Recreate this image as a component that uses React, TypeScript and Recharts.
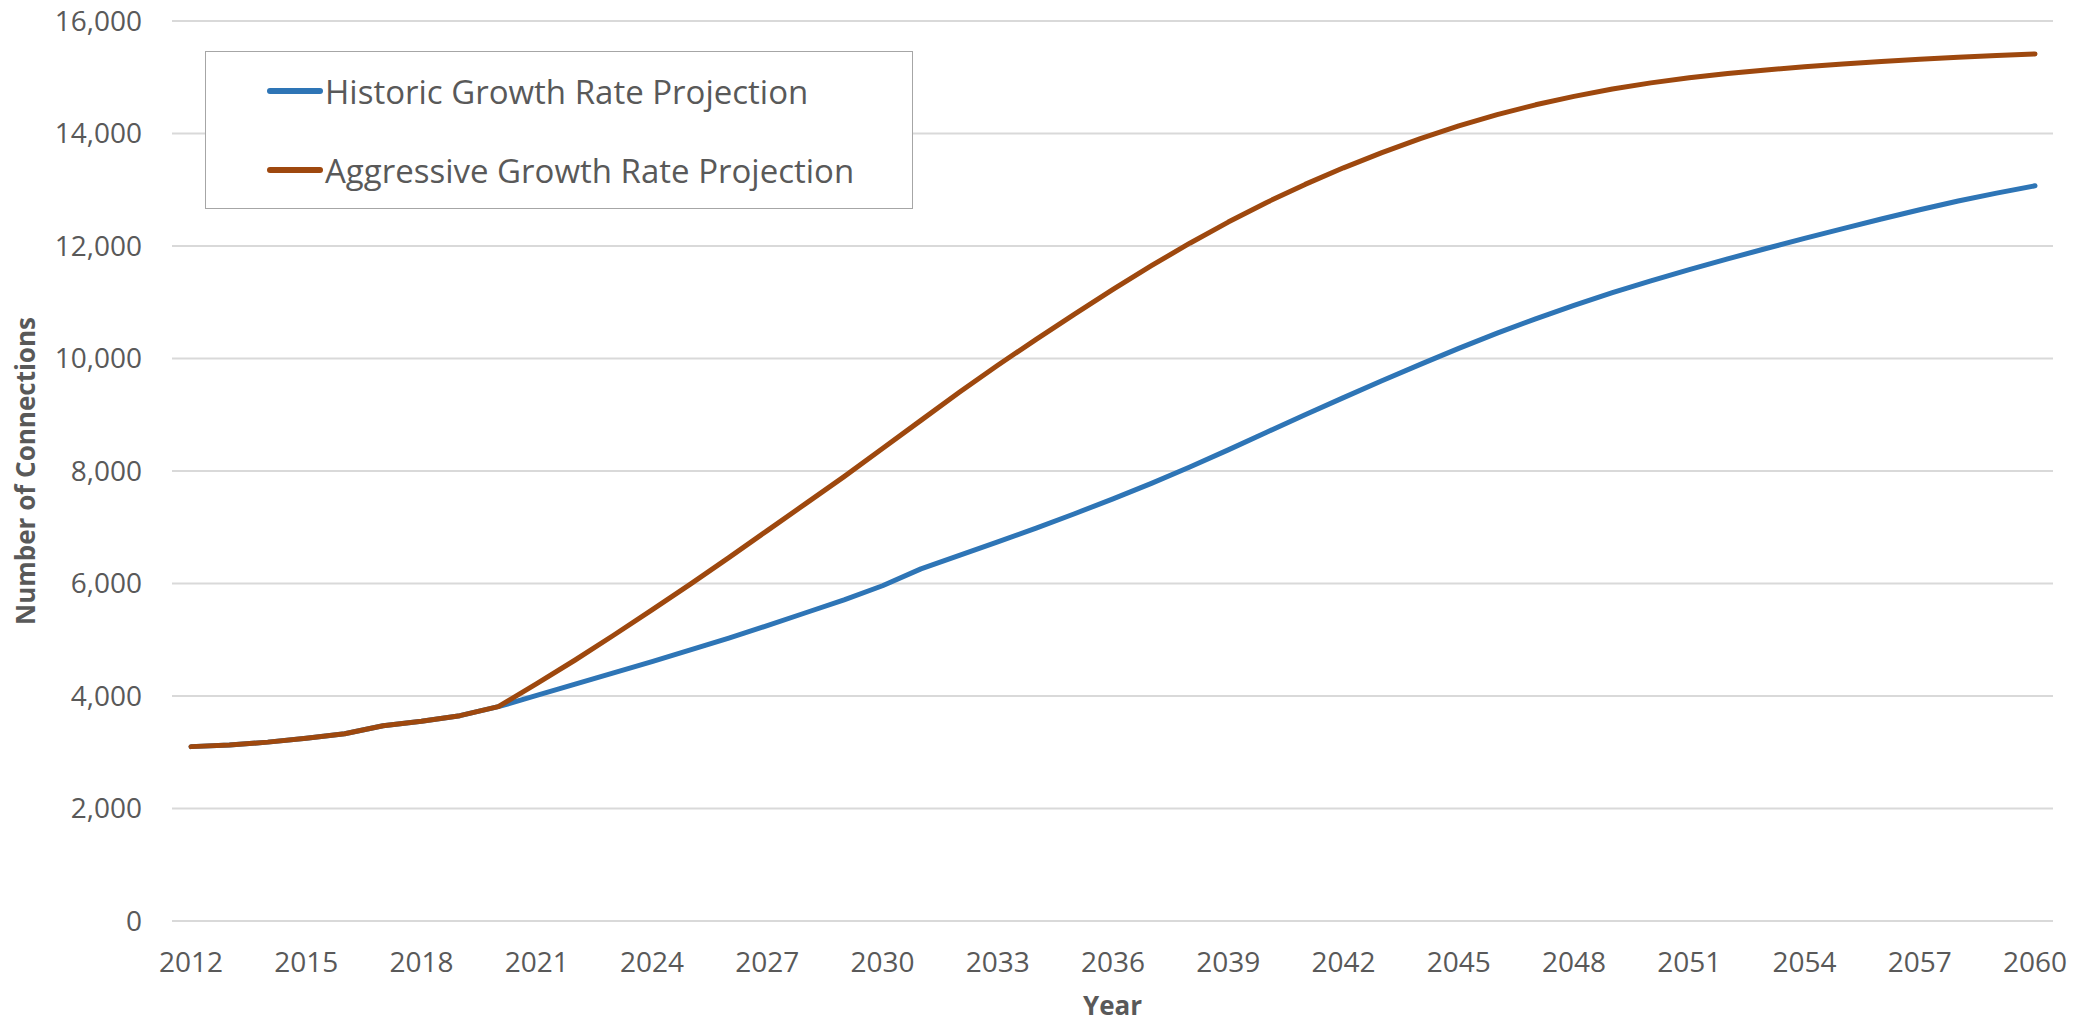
import React from "react";
import { LineChart, Line, XAxis, YAxis, CartesianGrid, Legend } from "recharts";

const years = [
  2012, 2013, 2014, 2015, 2016, 2017, 2018, 2019, 2020, 2021, 2022, 2023, 2024,
  2025, 2026, 2027, 2028, 2029, 2030, 2031, 2032, 2033, 2034, 2035, 2036, 2037,
  2038, 2039, 2040, 2041, 2042, 2043, 2044, 2045, 2046, 2047, 2048, 2049, 2050,
  2051, 2052, 2053, 2054, 2055, 2056, 2057, 2058, 2059, 2060,
];

const historic = [
  3100, 3130, 3180, 3250, 3330, 3470, 3550, 3650, 3810, 4010, 4210, 4410, 4610,
  4820, 5030, 5250, 5480, 5710, 5960, 6260, 6500, 6740, 6985, 7240, 7505, 7780,
  8070, 8375, 8690, 9000, 9305, 9605, 9895, 10180, 10450, 10705, 10945, 11170,
  11380, 11580, 11770, 11955, 12135, 12310, 12480, 12645, 12800, 12940, 13070,
];

const aggressive = [
  3100, 3130, 3180, 3250, 3330, 3470, 3550, 3650, 3810, 4220, 4640, 5080, 5530,
  5990, 6460, 6940, 7420, 7900, 8400, 8900, 9400, 9880, 10340, 10790, 11230,
  11650, 12050, 12425, 12775, 13095, 13390, 13660, 13910, 14135, 14335, 14510,
  14660, 14790, 14900, 14990, 15065, 15130, 15185, 15235, 15280, 15320, 15355,
  15387, 15415,
];

const yTicks = [0, 2000, 4000, 6000, 8000, 10000, 12000, 14000, 16000];

const seriesNames = ["Historic Growth Rate Projection", "Aggressive Growth Rate Projection"];
const seriesColors = ["#2E75B6", "#9E480E"];

const chartData = years.map((year, i) => ({
  year,
  historic: historic[i],
  aggressive: aggressive[i],
}));

const FONT = "'Open Sans', sans-serif";
const TEXT = "#595959";

function LegendBox(props: any) {
  // keep the series order, not the alphabetical one
  const items = [...(props.payload || [])].sort(
    (a: any, b: any) => seriesNames.indexOf(a.value) - seriesNames.indexOf(b.value)
  );
  return (
    <div
      style={{
        position: "relative",
        width: 706,
        height: 156,
        border: "1.5px solid #A6A6A6",
        background: "#fff",
        fontFamily: FONT,
      }}
    >
      {items.map((item: any, i: number) => (
        <div
          key={item.value}
          style={{
            position: "absolute",
            left: 60,
            top: 18 + i * 79,
            height: 42,
            display: "flex",
            alignItems: "center",
            whiteSpace: "nowrap",
          }}
        >
          <svg width={58} height={10} style={{ display: "block" }}>
            <line x1={4} y1={5} x2={54} y2={5} stroke={item.color} strokeWidth={6} strokeLinecap="round" />
          </svg>
          <span style={{ fontSize: 33, color: TEXT, marginLeft: 1 }}>{item.value}</span>
        </div>
      ))}
    </div>
  );
}

export default function App() {
  return (
    <div style={{ position: "absolute", left: 0, top: 0, width: 2092, height: 1022, background: "#fff" }}>
      <LineChart
        width={2092}
        height={1022}
        data={chartData}
        margin={{ top: 21, right: 39, bottom: 0, left: 0 }}
        style={{ fontFamily: FONT }}
      >
        <CartesianGrid vertical={false} stroke="#D9D9D9" strokeWidth={2} />
        <XAxis
          dataKey="year"
          type="category"
          interval={2}
          height={101}
          padding={{ left: 19, right: 18 }}
          axisLine={false}
          tickLine={false}
          tickSize={0}
          tickMargin={31}
          tick={{ fill: TEXT, fontSize: 28 }}
          label={{
            content: (p: any) => (
              <text
                x={p.viewBox.x + p.viewBox.width / 2}
                y={p.viewBox.y + 84}
                textAnchor="middle"
                dominantBaseline="central"
                fill={TEXT}
                fontSize={26}
                fontWeight="bold"
                fontFamily={FONT}
              >
                Year
              </text>
            ),
          }}
        />
        <YAxis
          width={172}
          domain={[0, 16000]}
          ticks={yTicks}
          axisLine={false}
          tickLine={false}
          tickSize={0}
          tickMargin={30}
          tickFormatter={(v: number) => v.toLocaleString("en-US")}
          tick={{ fill: TEXT, fontSize: 28 }}
          label={{
            content: (p: any) => {
              const cx = p.viewBox.x + 25;
              const cy = p.viewBox.y + p.viewBox.height / 2;
              return (
                <text
                  x={cx}
                  y={cy}
                  transform={`rotate(-90 ${cx} ${cy})`}
                  textAnchor="middle"
                  dominantBaseline="central"
                  fill={TEXT}
                  fontSize={26}
                  fontWeight="bold"
                  fontFamily={FONT}
                >
                  Number of Connections
                </text>
              );
            },
          }}
        />
        <Legend
          layout="horizontal"
          align="center"
          verticalAlign="middle"
          content={LegendBox}
          wrapperStyle={{ left: 205, top: 51, width: 709, height: 159, bottom: "auto", right: "auto" }}
        />
        <Line
          type="linear"
          dataKey="historic"
          name={seriesNames[0]}
          stroke={seriesColors[0]}
          strokeWidth={5}
          strokeLinecap="round"
          strokeLinejoin="round"
          dot={false}
          activeDot={false}
          isAnimationActive={false}
        />
        <Line
          type="linear"
          dataKey="aggressive"
          name={seriesNames[1]}
          stroke={seriesColors[1]}
          strokeWidth={5}
          strokeLinecap="round"
          strokeLinejoin="round"
          dot={false}
          activeDot={false}
          isAnimationActive={false}
        />
      </LineChart>
    </div>
  );
}
